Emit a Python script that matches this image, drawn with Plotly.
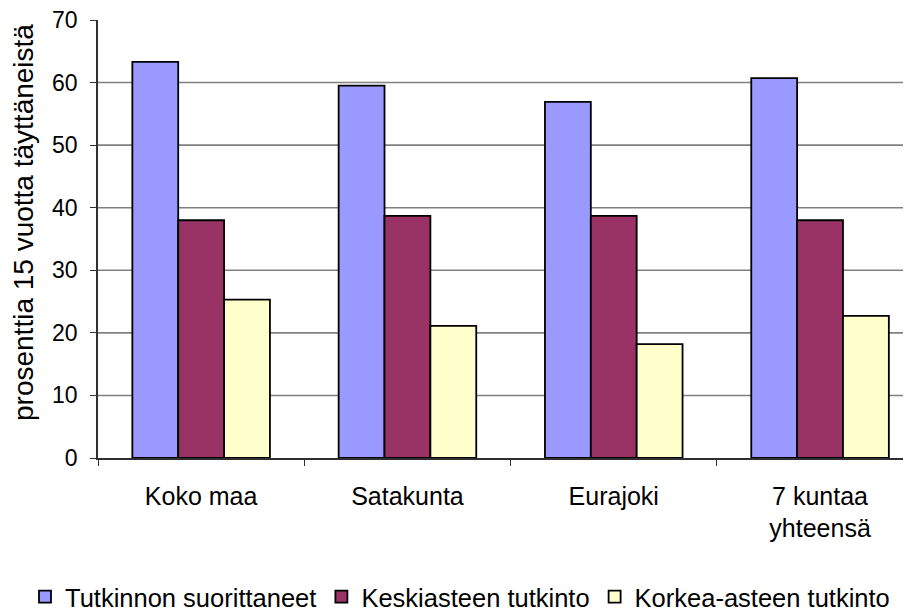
import plotly.graph_objects as go

categories = ["Koko maa", "Satakunta", "Eurajoki", "7 kuntaa<br>yhteensä"]
series_names = ["Tutkinnon suorittaneet", "Keskiasteen tutkinto", "Korkea-asteen tutkinto"]
tutkinnon = [63.3, 59.5, 56.9, 60.7]
keskiaste = [38.0, 38.7, 38.7, 38.0]
korkea = [25.3, 21.1, 18.2, 22.7]
colors = ["#9999FF", "#993366", "#FFFFCC"]
y_ticks = [0, 10, 20, 30, 40, 50, 60, 70]
grid_vals = [10, 20, 30, 40, 50, 60]

FONT = "Liberation Sans, Arial, sans-serif"

# page body has an 8px margin; figure is sized to fit the window
OFF = 8
W, H = 911 - OFF, 612 - OFF
ml, mr, mt, mb = 98 - OFF, 0, 20 - OFF, 612 - 458
plot_w = W - ml - mr
plot_h = H - mt - mb
cat_w = 206.3
right_extent = (911 - 98) / cat_w - 0.5

fig = go.Figure()
for name, vals, col in zip(series_names, [tutkinnon, keskiaste, korkea], colors):
    fig.add_trace(go.Bar(x=categories, y=vals, name=name,
                         marker=dict(color=col, line=dict(color="#000000", width=1.8))))

for g in grid_vals:
    fig.add_shape(type="line", xref="paper", yref="y", x0=0, x1=1, y0=g, y1=g,
                  line=dict(color="#808080", width=1.6), layer="below")

fig.update_layout(
    width=W, height=H,
    margin=dict(l=ml, r=mr, t=mt, b=mb, autoexpand=False),
    paper_bgcolor="white", plot_bgcolor="white",
    barmode="group", bargap=0.333, bargroupgap=0,
    font=dict(family=FONT, size=25, color="#000000"),
    showlegend=True,
    legend=dict(orientation="h", x=(25 - 98) / plot_w, xref="paper", xanchor="left",
                y=(458 - 597) / plot_h, yref="paper", yanchor="middle",
                font=dict(size=25.5, family=FONT), itemwidth=30,
                traceorder="normal", tracegroupgap=0, borderwidth=0),
    xaxis=dict(range=[-0.5, right_extent], showgrid=False, showline=True, automargin=False,
               linecolor="#303030", linewidth=1.6, ticks="outside", tickson="boundaries",
               ticklen=6, tickcolor="#303030", tickwidth=1.4, ticklabelstandoff=15,
               tickfont=dict(size=25, family=FONT), fixedrange=True),
    yaxis=dict(range=[0, 70], tickvals=y_ticks, showgrid=False, showline=True, automargin=False,
               linecolor="#303030", linewidth=1.6, ticks="outside", ticklen=6,
               tickcolor="#303030", tickwidth=1.4, ticklabelstandoff=8,
               ticklabeloverflow="allow",
               tickfont=dict(size=23, family=FONT), zeroline=False),
    annotations=[dict(text="prosenttia 15 vuotta täyttäneistä", textangle=-90,
                      xref="paper", yref="paper", x=(23 - 98) / plot_w,
                      y=(458 - 223) / plot_h,
                      xanchor="center", yanchor="middle", showarrow=False,
                      font=dict(size=28, family=FONT))],
)

fig.write_html("out.html")
